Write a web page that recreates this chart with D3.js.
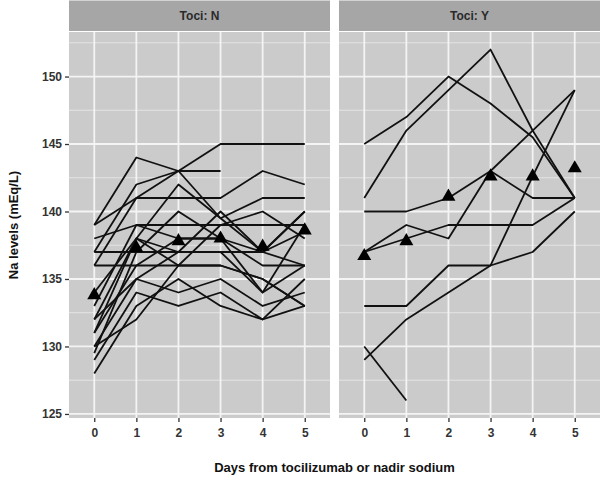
<!DOCTYPE html>
<html>
<head>
<meta charset="utf-8">
<script src="https://cdn.jsdelivr.net/npm/d3@7"></script>
<style>
  html, body { margin: 0; padding: 0; background: #fff; }
  svg { display: block; }
  text { font-family: "Liberation Sans", Arial, sans-serif; }
</style>
</head>
<body>
<div id="chart"></div>
<script>
// ---- data ----
const days = [0, 1, 2, 3, 4, 5];
const panels = ["Toci: N", "Toci: Y"];
const yTicks = [125, 130, 135, 140, 145, 150];

// Toci: N patients (Na by day; null = not measured)
const tociN = [
  [139, 141, 143, 145, 145, 145],
  [139, 144, 143, 139.5, 137, 136],
  [137, 142, 143, 143, null, null],
  [136, 141, 141, 141, 143, 142],
  [132, 138, 142, 139.5, 141, 141],
  [138, 139, 139, 139, 139, 139],
  [137, 137, 137, 137, 137, 140],
  [136, 136, 136, 136, 135, 133],
  [133, 139, 138, 138, 137, 140],
  [131, 138, 137, 140, 137, 138.5],
  [130, 135, 134, 135, 133, 134],
  [129, 134, 133, 134, 132, 133],
  [128, 133, 135, 133, 132, 135],
  [131, 136, 138, 138, 136, 136],
  [132, 135, 137, 137, 134, 139],
  [129.5, 137, 140, 138, 134, 136],
  [134, 138, 136, 139, 140, 138],
  [130, 132, 136, 136, 135, 133]
];
const meanN = [133.8, 137.3, 137.8, 138.0, 137.4, 138.6];

// Toci: Y patients
const tociY = [
  [145, 147, 150, 148, 145.5, 141],
  [141, 146, 149, 152, 146, 141],
  [140, 140, 141, 143, 146, 149],
  [137, 139, 138, 143, 141, 141],
  [137, 138, 139, 139, 139, 141],
  [133, 133, 136, 136, 142.6, 149],
  [129, 132, 134, 136, 137, 140],
  [130, 126, null, null, null, null]
];
const meanY = [136.7, 137.8, 141.1, 142.6, 142.6, 143.2];

const panelSeries = [tociN, tociY];
const panelMeans = [meanN, meanY];

// ---- layout ----
const W = 600, H = 479;
const panelX = [[69, 330], [339, 600]];
const stripTop = 0.5, stripBottom = 31;
const plotTop = 32, plotBottom = 418;

const svg = d3.select("#chart").append("svg")
  .attr("width", W).attr("height", H);

const y = d3.scaleLinear().domain([124.7, 153.3]).range([plotBottom, plotTop]);
const minorY = d3.range(127.5, 153.3, 5);

panels.forEach((name, pi) => {
  const [x0, x1] = panelX[pi];
  const x = d3.scalePoint().domain(days).range([x0, x1]).padding(0.6);
  const g = svg.append("g");

  // panel background
  g.append("rect").attr("x", x0).attr("y", plotTop)
    .attr("width", x1 - x0).attr("height", plotBottom - plotTop)
    .attr("fill", "#cbcbcb");

  // minor grid
  g.selectAll(".minor").data(minorY).join("line")
    .attr("x1", x0).attr("x2", x1)
    .attr("y1", d => y(d)).attr("y2", d => y(d))
    .attr("stroke", "#e4e4e4").attr("stroke-width", 1);
  // major grid
  g.selectAll(".hmaj").data(yTicks).join("line")
    .attr("x1", x0).attr("x2", x1)
    .attr("y1", d => y(d)).attr("y2", d => y(d))
    .attr("stroke", "#f4f4f4").attr("stroke-width", 1.8);
  g.selectAll(".vmaj").data(days).join("line")
    .attr("x1", d => x(d)).attr("x2", d => x(d))
    .attr("y1", plotTop).attr("y2", plotBottom)
    .attr("stroke", "#f4f4f4").attr("stroke-width", 1.8);

  // strip
  g.append("rect").attr("x", x0).attr("y", stripTop)
    .attr("width", x1 - x0).attr("height", stripBottom - stripTop)
    .attr("fill", "#a6a6a6");
  g.append("text").attr("x", (x0 + x1) / 2).attr("y", 20)
    .attr("text-anchor", "middle").attr("font-size", 12).attr("font-weight", "bold")
    .attr("fill", "#2a2a2a").text(name);

  // lines
  const line = d3.line()
    .defined(d => d != null)
    .x((d, i) => x(days[i]))
    .y(d => y(d));
  g.append("g").selectAll("path").data(panelSeries[pi]).join("path")
    .attr("d", line)
    .attr("fill", "none").attr("stroke", "#111")
    .attr("stroke-width", 1.8).attr("stroke-linejoin", "round");

  // mean triangles
  const tri = d3.symbol().type(d3.symbolTriangle).size(85);
  g.append("g").selectAll("path").data(panelMeans[pi]).join("path")
    .attr("d", tri)
    .attr("transform", (d, i) => `translate(${x(days[i])},${y(d)})`)
    .attr("fill", "#000");

  // x axis
  const xa = svg.append("g").attr("transform", `translate(0,${plotBottom})`)
    .call(d3.axisBottom(x).tickSize(4).tickPadding(6));
  xa.select(".domain").remove();
  xa.selectAll("line").attr("stroke", "#333").attr("stroke-width", 1.3);
  xa.selectAll("text").attr("font-size", 12).attr("font-weight", "bold").attr("fill", "#333")
    .attr("font-family", "Liberation Sans, Arial, sans-serif");
});

// y axis
const ya = svg.append("g").attr("transform", `translate(${panelX[0][0]},0)`)
  .call(d3.axisLeft(y).tickValues(yTicks).tickSize(4).tickPadding(3));
ya.select(".domain").remove();
ya.selectAll("line").attr("stroke", "#333").attr("stroke-width", 1.3);
ya.selectAll("text").attr("font-size", 12).attr("font-weight", "bold").attr("fill", "#333")
  .attr("font-family", "Liberation Sans, Arial, sans-serif");

// axis titles
svg.append("text")
  .attr("x", (panelX[0][0] + panelX[1][1]) / 2).attr("y", 472)
  .attr("text-anchor", "middle").attr("font-size", 13).attr("font-weight", "bold")
  .attr("fill", "#111").text("Days from tocilizumab or nadir sodium");
svg.append("text")
  .attr("transform", `translate(18,${(plotTop + plotBottom) / 2}) rotate(-90)`)
  .attr("text-anchor", "middle").attr("font-size", 13).attr("font-weight", "bold")
  .attr("fill", "#111").text("Na levels (mEq/L)");
</script>
</body>
</html>
